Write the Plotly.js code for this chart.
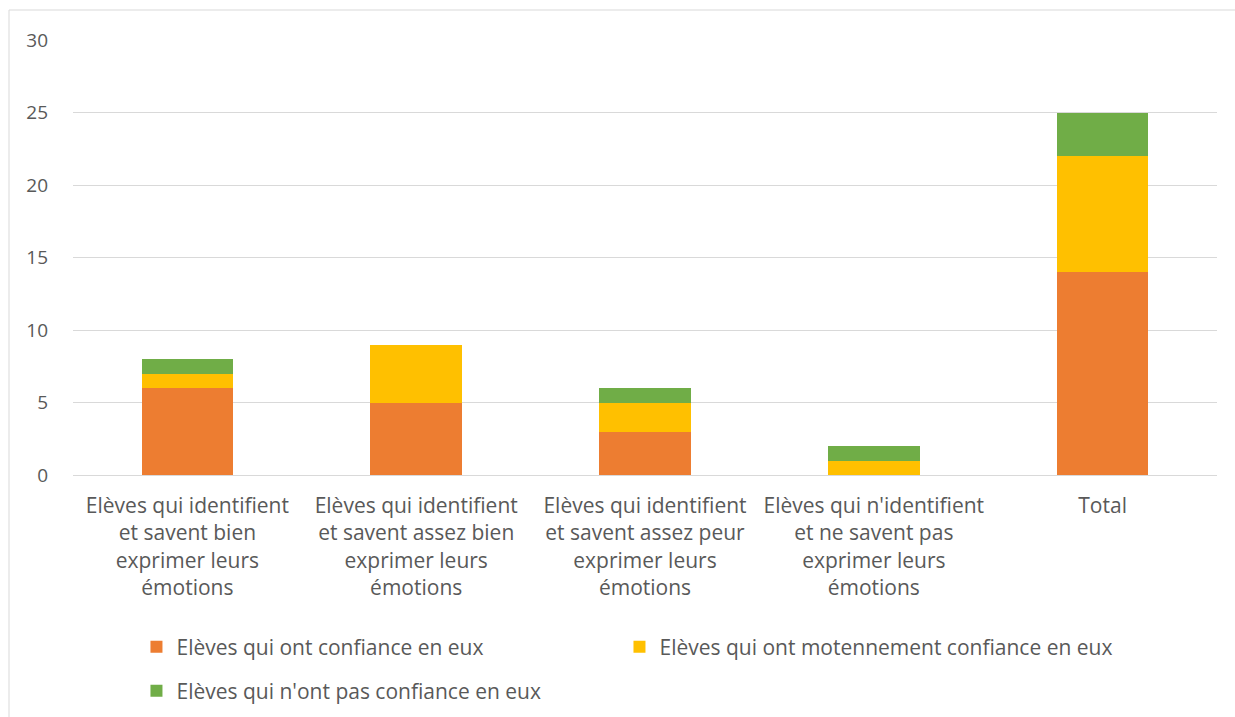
<!DOCTYPE html>
<html>
<head>
<meta charset="utf-8">
<script src="https://cdn.plot.ly/plotly-3.0.1.min.js"></script>
<style>html,body{margin:0;padding:0;background:#fff;}#chart{width:1235px;height:717px;}</style>
</head>
<body>
<div id="chart"></div>
<script>
const categories = [
  "Elèves qui identifient<br>et savent bien<br>exprimer leurs<br>émotions",
  "Elèves qui identifient<br>et savent assez bien<br>exprimer leurs<br>émotions",
  "Elèves qui identifient<br>et savent assez peur<br>exprimer leurs<br>émotions",
  "Elèves qui n'identifient<br>et ne savent pas<br>exprimer leurs<br>émotions",
  "Total"
];
const seriesNames = [
  "Elèves qui ont confiance en eux",
  "Elèves qui ont motennement confiance en eux",
  "Elèves qui n'ont pas confiance en eux"
];
const confiance = [6, 5, 3, 0, 14];
const moyennement = [1, 4, 2, 1, 8];
const pasConfiance = [1, 0, 1, 1, 3];
const yTicks = [0, 5, 10, 15, 20, 25, 30];

const colors = ["#ED7D31", "#FFC000", "#70AD47"];
const legendIds = ["legend", "legend3", "legend2"];
const font = {family: "Open Sans, Calibri, sans-serif", color: "#595959", size: 21};
const fontSmall = Object.assign({}, font, {size: 19});

const traces = [confiance, moyennement, pasConfiance].map((vals, i) => ({
  type: "bar",
  x: categories,
  y: vals,
  name: seriesNames[i],
  legend: legendIds[i],
  marker: {color: colors[i], line: {width: 0}},
  hoverinfo: "y+name"
}));

const legendBase = {
  orientation: "h",
  xref: "container", yref: "container",
  xanchor: "left", yanchor: "middle",
  traceorder: "normal",
  font: font,
  itemwidth: 30,
  bgcolor: "rgba(0,0,0,0)"
};

const layout = {
  width: 1235, height: 717,
  margin: {l: 73, r: 18, t: 40, b: 242},
  barmode: "stack",
  bargap: 0.6,
  paper_bgcolor: "#fff",
  plot_bgcolor: "#fff",
  font: font,
  showlegend: true,
  legend: Object.assign({}, legendBase, {x: 0.1105, y: 1 - 647 / 717}),
  legend3: Object.assign({}, legendBase, {x: 0.5016, y: 1 - 647 / 717}),
  legend2: Object.assign({}, legendBase, {x: 0.1105, y: 1 - 691 / 717}),
  xaxis: {
    type: "category",
    showgrid: false,
    zeroline: false,
    showline: false,
    ticks: "",
    tickfont: font,
    ticklabelstandoff: 16,
    fixedrange: true
  },
  yaxis: {
    range: [0, 30],
    tickvals: yTicks,
    ticktext: yTicks.map(String),
    showgrid: true,
    gridcolor: "#d9d9d9",
    gridwidth: 1,
    zeroline: true,
    zerolinecolor: "#d9d9d9",
    showline: false,
    ticks: "",
    tickfont: fontSmall,
    ticklabelstandoff: 24,
    fixedrange: true
  },
  shapes: [{
    type: "rect", xref: "paper", yref: "paper",
    x0: (9 - 73) / 1144, x1: (1245 - 73) / 1144,
    y0: (475 - 730) / 435, y1: (475 - 10) / 435,
    line: {color: "#d9d9d9", width: 1},
    fillcolor: "rgba(0,0,0,0)",
    layer: "below"
  }]
};

Plotly.newPlot("chart", traces, layout, {displayModeBar: false, staticPlot: true});
</script>
</body>
</html>
